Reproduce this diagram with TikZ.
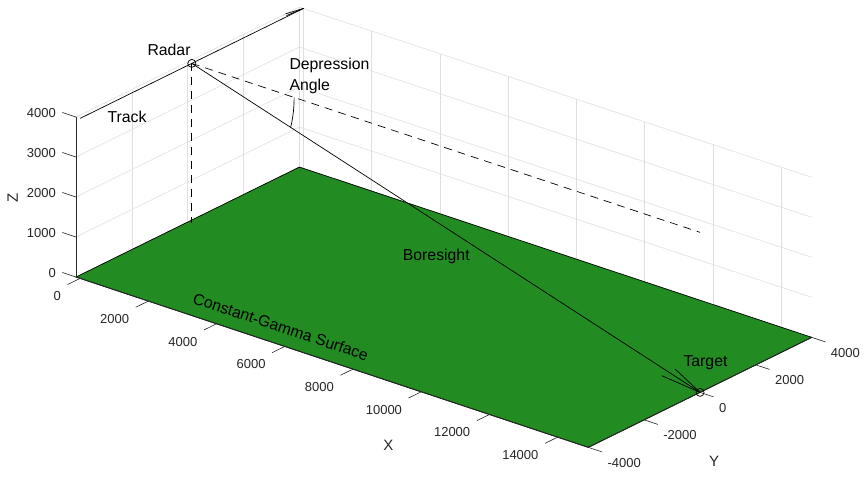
\documentclass[tikz,border=0pt]{standalone}
\usepackage{fontspec}
\setmainfont{Liberation Sans}
\usetikzlibrary{calc}
\definecolor{gridc}{RGB}{223,223,223}
\definecolor{axc}{RGB}{38,38,38}
\definecolor{surf}{RGB}{34,139,34}
\begin{document}
\begin{tikzpicture}[x=1pt,y=-1pt,
  gridline/.style={draw=gridc, line width=0.6pt},
  axisline/.style={draw=axc, line width=0.8pt},
  tickline/.style={draw=axc, line width=0.6pt},
  ticklab/.style={text=axc, inner sep=0pt, font=\fontsize{13}{15}\selectfont},
  axlab/.style={text=axc, inner sep=0pt, font=\fontsize{15}{18}\selectfont},
  annot/.style={inner sep=0pt, font=\fontsize{15.8}{20.7}\selectfont},
  dataline/.style={draw=black, line width=0.7pt},
  dashline/.style={draw=black, line width=0.7pt, dash pattern=on 8pt off 6pt},
  marker/.style={draw=black, line width=0.7pt, circle, minimum size=8pt, inner sep=0pt}
]
\useasboundingbox (0,0) rectangle (864,485);
\begin{scope}[shift={(191.8,223.4)}, x={(34.11pt,-11.34pt)}, y={(27.93pt,13.75pt)}, z={(0pt,40pt)}]
  % grid on back walls
  \foreach \k in {0,...,4} {
    \draw[gridline] (-0.12,-4,\k) -- (-0.12,4,\k) -- (14.9,4,\k);
  }
  \foreach \yy in {-2,0,2,4} \draw[gridline] (-0.12,\yy,0) -- (-0.12,\yy,4);
  \foreach \xx in {0,2,...,14} \draw[gridline] (\xx,4,0) -- (\xx,4,4);
  % surface
  \coordinate (c1) at (-0.12,-4,0);
  \coordinate (c2) at (14.9,-4,0);
  \coordinate (c3) at (14.9,4,0);
  \coordinate (c4) at (-0.12,4,0);
  \coordinate (ctop) at (-0.12,-4,4);
  \filldraw[fill=surf, draw=black, line width=0.7pt] (c1) -- (c2) -- (c3) -- (c4) -- cycle;
  % axes
  \draw[axisline] (c1) -- (ctop);
  \draw[axisline] (c1) -- (c2);
  \draw[axisline] (c2) -- (c3);
  \foreach \xx in {0,2,...,14} {
    \pgfmathtruncatemacro{\lab}{\xx*1000}
    \draw[tickline] (\xx,-4,0) -- (\xx,-4.45,0);
    \node[ticklab, anchor=east, xshift=-19pt, yshift=-18pt] (xt\xx) at (\xx,-4,0) {\lab};
  }
  \foreach \yy in {-4,-2,0,2,4} {
    \pgfmathtruncatemacro{\lab}{\yy*1000}
    \draw[tickline] (14.9,\yy,0) -- (15.3,\yy,0);
    \node[ticklab, anchor=west, xshift=19pt, yshift=-15.5pt] (yt\yy) at (14.9,\yy,0) {\lab};
  }
  \foreach \zz in {0,...,4} {
    \pgfmathtruncatemacro{\lab}{\zz*1000}
    \draw[tickline] (-0.12,-4,\zz) -- (-0.52,-4,\zz);
    \node[ticklab, anchor=east, xshift=-20pt, yshift=4.5pt] (zt\zz) at (-0.12,-4,\zz) {\lab};
  }
  % data
  \coordinate (radarpt) at (0,0,4);
  \coordinate (base) at (0,0,0);
  \coordinate (target) at (14.9,0,0);
  \coordinate (dashend) at (14.9,0,4);
  \coordinate (trackstart) at (0,-4,4);
  \coordinate (trackend) at (0,4,4);
  \draw[dashline] (radarpt) -- (base);
  \draw[dashline] (radarpt) -- (dashend);
  \draw[dataline] (radarpt) -- (target);
  \draw[dataline] (trackstart) -- (trackend);
  \draw[dataline] plot[domain=0:15.03, samples=16, smooth, variable=\t] ({3*cos(\t)},0,{4-3*sin(\t)});
  \node[marker] (radar) at (radarpt) {};
  \node[marker] (tgt) at (target) {};
\end{scope}
% arrowheads
\draw[dataline] (trackend) -- ++(-18,5.5);
\draw[dataline] (trackend) -- ++(-17,7.2);
\draw[dataline] (target) -- ++(-38.3,-16.7);
\draw[dataline] (target) -- ++(-25,-23.4);
% labels
\node[annot, anchor=base west] (radarlab) at (147.3,55) {Radar};
\node[annot, anchor=base west] (tracklab) at (107.3,122.7) {Track};
\node[annot, anchor=base west] (deplab1) at (289.3,69.3) {Depression};
\node[annot, anchor=base west] (deplab2) at (289.3,90) {Angle};
\node[annot, anchor=base west] (borelab) at (402.7,260) {Boresight};
\node[annot, anchor=base west] (tgtlab) at (683.3,366.5) {Target};
\node[annot, rotate=-18.4] (surflab) at (280.8,326.7) {Constant-Gamma Surface};
\node[axlab] (xlab) at (388.3,445) {X};
\node[axlab] (ylab) at (714,461.7) {Y};
\node[axlab, rotate=90] (zlab) at (12.8,197.5) {Z};
\end{tikzpicture}
\end{document}
